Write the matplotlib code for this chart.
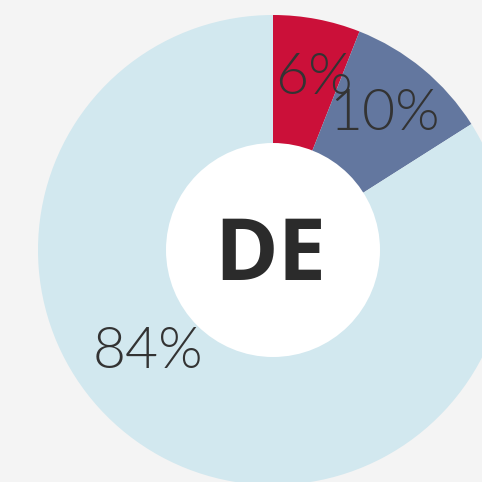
import matplotlib
matplotlib.use("Agg")
import matplotlib.pyplot as plt
from matplotlib.patches import Circle

# share of each segment, drawn clockwise from 12 o'clock
labels = ["6%", "10%", "84%"]
shares = [6, 10, 84]
colors = ["#cb1039", "#63779f", "#d2e8ef"]
center_label = "DE"

BG = "#f4f4f4"
CX, CY = 273, 232      # donut centre in pixel units
R_OUT, R_IN = 235, 107

fig = plt.figure(figsize=(4.82, 4.82), dpi=100, facecolor=BG)
ax = fig.add_axes([0, 0, 1, 1])
ax.set_facecolor(BG)

ax.pie(shares, colors=colors, startangle=90, counterclock=False,
       center=(CX, CY), radius=R_OUT, frame=True,
       wedgeprops=dict(linewidth=0))
ax.add_patch(Circle((CX, CY), R_IN, facecolor="white", edgecolor="none", zorder=3))

# label placement: (x, y) in pixel units
label_pos = [(314, 403), (384, 368), (148, 130)]
for text, (x, y) in zip(labels, label_pos):
    ax.text(x, y, text, ha="center", va="center", fontsize=41,
            family="Lato", fontweight=300, color="#333333", zorder=4)

ax.text(CX - 3, CY - 8, center_label, ha="center", va="center", fontsize=62,
        family="Open Sans", fontweight="bold", color="#2b2b2b", zorder=4)

ax.set_xlim(0, 482)
ax.set_ylim(0, 482)
ax.set_aspect("equal")
ax.axis("off")

fig.savefig("out.png", dpi=100, facecolor=BG)
